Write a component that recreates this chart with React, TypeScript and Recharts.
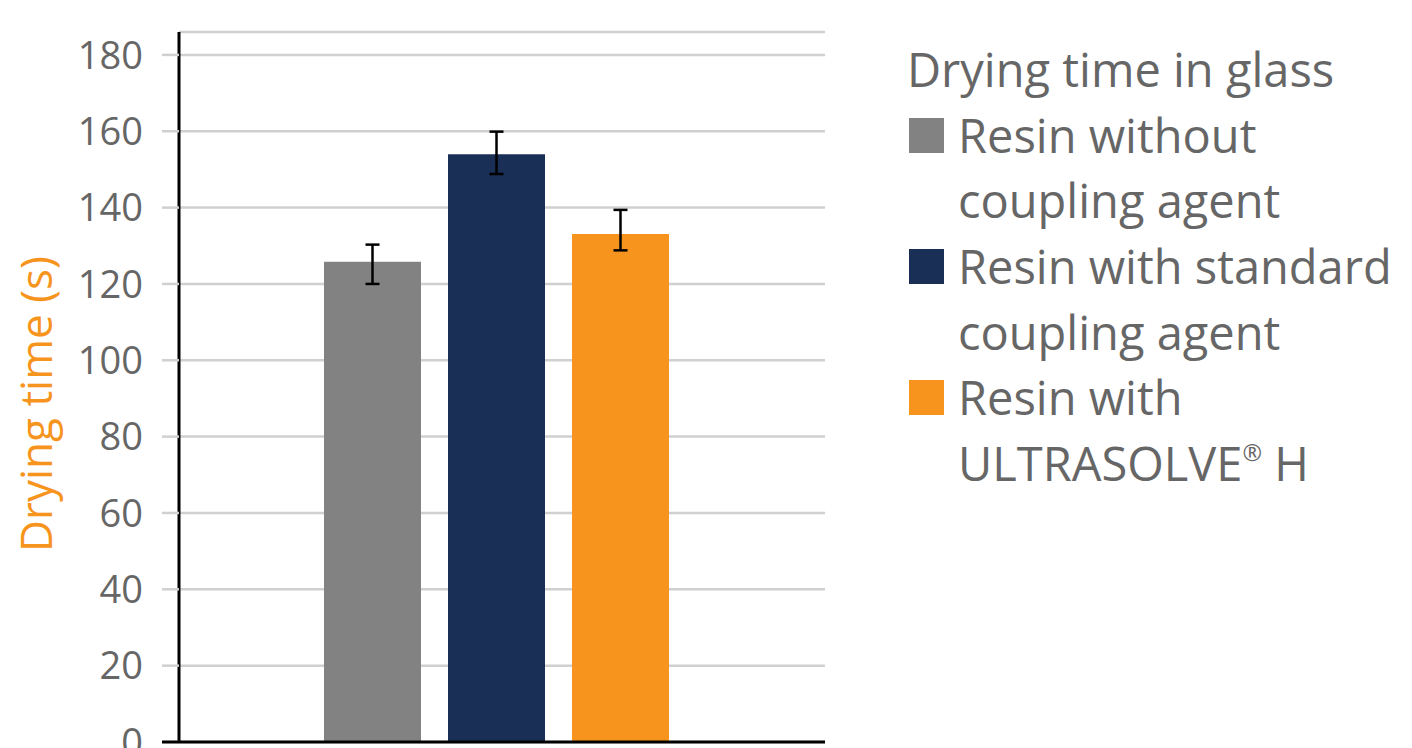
import { BarChart, Bar, XAxis, YAxis, CartesianGrid, ErrorBar } from 'recharts';

const categories = ['Drying time in glass'];
const seriesKeys = ['noAgent', 'standard', 'ultrasolve'];
const seriesNames = ['Resin without coupling agent', 'Resin with standard coupling agent', 'Resin with ULTRASOLVE® H'];
const legendLines = [
  ['Resin without', 'coupling agent'],
  ['Resin with standard', 'coupling agent'],
  ['Resin with', 'ULTRASOLVE® H'],
];
const seriesColors = ['#828282', '#192f56', '#f7941d'];
const seriesValues = [125.8, 154, 133.1];
// [below, above] the bar top
const errorLow = [5.8, 5.2, 4.3];
const errorHigh = [4.5, 5.9, 6.3];
const yTicks = [0, 20, 40, 60, 80, 100, 120, 140, 160, 180];

const FONT = '"Open Sans", "DejaVu Sans", sans-serif';
const TEXT = '#666666';

const data = categories.map((name) => {
  const row: Record<string, any> = { name };
  seriesKeys.forEach((k, i) => {
    row[k] = seriesValues[i];
    row[k + 'Err'] = [errorLow[i], errorHigh[i]];
  });
  return row;
});

const TICK_SIZE = 17;
const TICK_MARGIN = 19;

function YTick(props: any) {
  const { x, y, payload } = props;
  const isZero = payload.value === 0;
  return (
    <g>
      {isZero && (
        <line x1={x + TICK_MARGIN} x2={x + TICK_MARGIN + TICK_SIZE} y1={y} y2={y} stroke="#000" strokeWidth={3} />
      )}
      <text x={x} y={y} dy="0.36em" textAnchor="end" fill={TEXT} fontSize={38} fontFamily={FONT}>
        {payload.value}
      </text>
    </g>
  );
}

function YLabel(props: any) {
  const { viewBox } = props;
  const cx = 52;
  const cy = viewBox.y + viewBox.height / 2 + 17;
  return (
    <text
      transform={`translate(${cx},${cy}) rotate(-90)`}
      textAnchor="middle"
      fill="#f7941d"
      fontSize={44}
      fontFamily={FONT}
    >
      Drying time (s)
    </text>
  );
}

function withReg(s: string) {
  const parts = s.split('®');
  if (parts.length === 1) return s;
  return (
    <>
      {parts[0]}
      <span style={{ fontSize: '0.5em', position: 'relative', top: '-0.85em', lineHeight: 0 }}>®</span>
      {parts[1]}
    </>
  );
}

function LegendBox() {
  return (
    <div
      style={{
        position: 'absolute',
        left: 907,
        top: 37,
        fontFamily: FONT,
        fontSize: 47,
        lineHeight: '65.7px',
        color: TEXT,
        whiteSpace: 'nowrap',
      }}
    >
      <div>{categories[0]}</div>
      {seriesNames.map((name, i) => (
        <div key={name} title={name}>
          <div style={{ height: 65.7 }}>
            <span
              style={{
                display: 'inline-block',
                width: 35,
                height: 35,
                background: seriesColors[i],
                marginLeft: 2,
                marginRight: 14,
              }}
            />
            {withReg(legendLines[i][0])}
          </div>
          <div style={{ paddingLeft: 51, height: 65.7 }}>{withReg(legendLines[i][1])}</div>
        </div>
      ))}
    </div>
  );
}

export default function App() {
  return (
    <div style={{ position: 'absolute', left: 0, top: 0, width: 1412, height: 748, background: '#fff' }}>
      <BarChart
        width={1412}
        height={748}
        data={data}
        margin={{ top: 32, right: 587, bottom: 5, left: 0 }}
        barSize={97}
        barGap={27}
      >
        <CartesianGrid vertical={false} stroke="#d0d0d0" strokeWidth={2.5} />
        <XAxis
          dataKey="name"
          height={1}
          tick={false}
          tickLine={false}
          axisLine={{ stroke: '#000', strokeWidth: 3 }}
          padding={{ left: 0, right: 11 }}
        />
        <YAxis
          width={179}
          domain={[0, 186]}
          ticks={yTicks}
          interval={0}
          allowDataOverflow
          tickSize={TICK_SIZE}
          tickMargin={TICK_MARGIN}
          tickLine={{ stroke: '#d0d0d0', strokeWidth: 2.5 }}
          axisLine={{ stroke: '#000', strokeWidth: 3 }}
          tick={<YTick />}
          label={{ content: <YLabel /> }}
        />
        {seriesKeys.map((k, i) => (
          <Bar key={k} dataKey={k} name={seriesNames[i]} fill={seriesColors[i]} isAnimationActive={false}>
            <ErrorBar dataKey={k + 'Err'} stroke="#000" strokeWidth={2.5} width={7} isAnimationActive={false} />
          </Bar>
        ))}
      </BarChart>
      <LegendBox />
    </div>
  );
}
